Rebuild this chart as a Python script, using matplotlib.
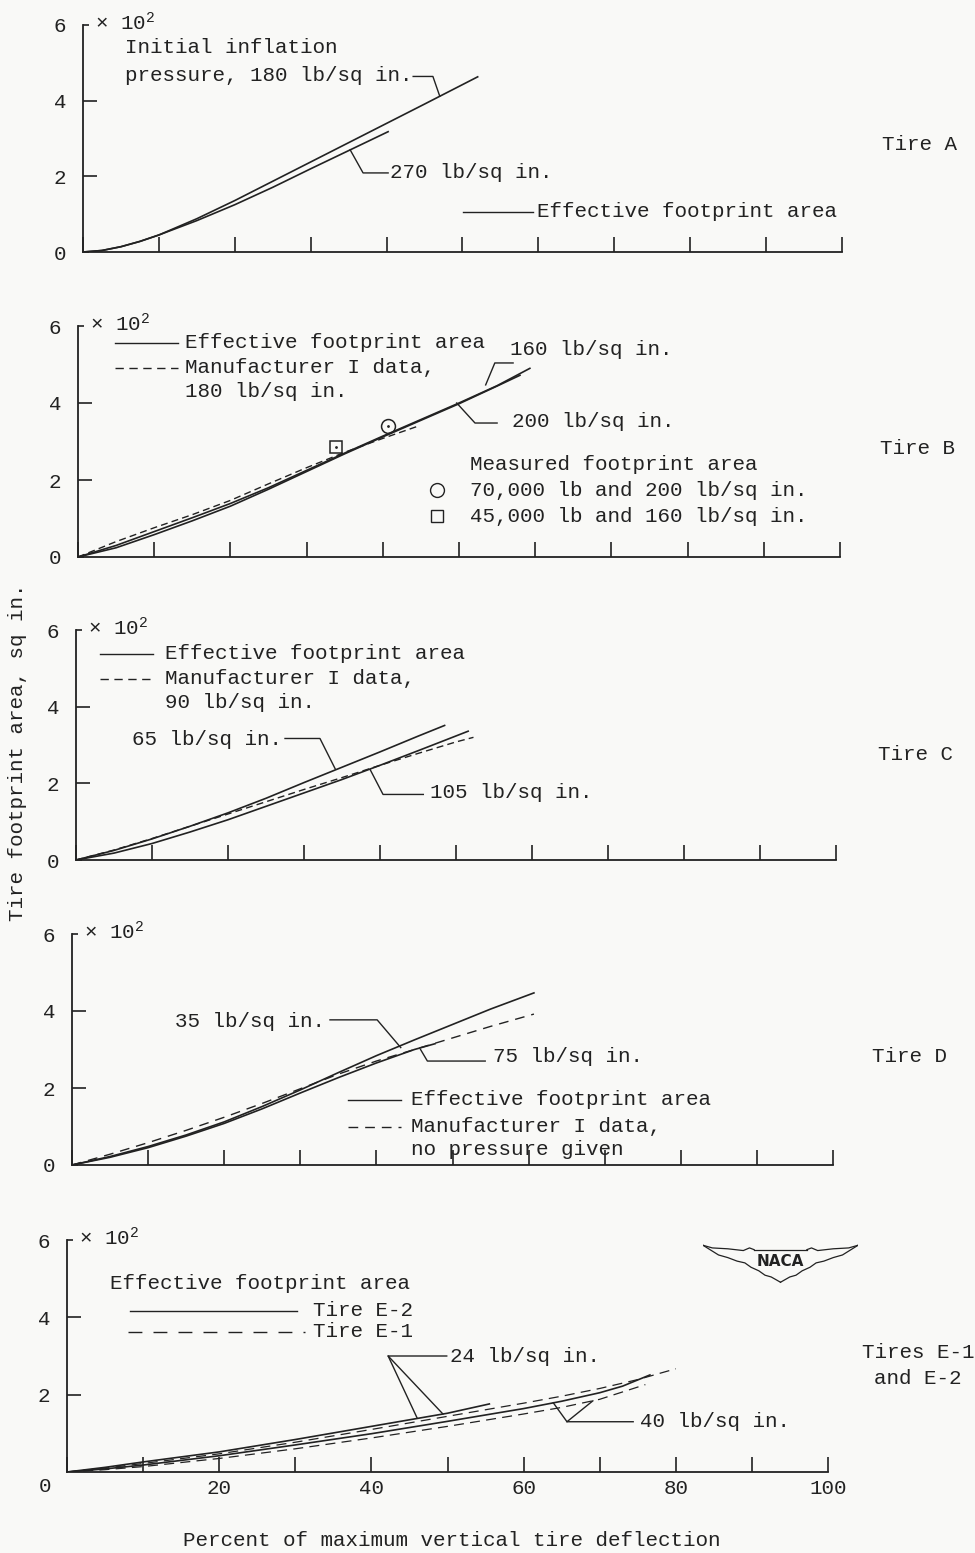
import numpy as np
import matplotlib
matplotlib.use("Agg")
import matplotlib.pyplot as plt

plt.rcParams['font.family'] = ['Liberation Mono', 'DejaVu Sans Mono']
plt.rcParams['font.size'] = 15
plt.rcParams['mathtext.fontset'] = 'custom'
plt.rcParams['mathtext.rm'] = 'Liberation Mono'
plt.rcParams['mathtext.it'] = 'Liberation Mono'
INK = '#222222'
plt.rcParams['text.color'] = INK
plt.rcParams['axes.edgecolor'] = INK
plt.rcParams['xtick.color'] = INK
plt.rcParams['ytick.color'] = INK

W, H = 975, 1553

# ---- Tire A ----
a_x180 = [0, 2.5, 5, 7.5, 10, 15, 20, 25, 30, 35, 40, 45, 52]
a_y180 = [0, 0.04, 0.14, 0.28, 0.45, 0.88, 1.36, 1.87, 2.38, 2.89, 3.4, 3.91, 4.63]
a_x270 = [0, 2.5, 5, 7.5, 10, 15, 20, 25, 30, 35, 40.2]
a_y270 = [0, 0.04, 0.14, 0.28, 0.45, 0.83, 1.25, 1.71, 2.2, 2.68, 3.18]

# ---- Tire B ----
b_x160 = [0, 5, 10, 15, 20, 25, 30, 35, 40, 45, 50, 55, 59.3]
b_y160 = [0, 0.3, 0.66, 1.02, 1.39, 1.8, 2.25, 2.7, 3.14, 3.57, 4.0, 4.45, 4.9]
b_x200 = [0, 5, 10, 15, 20, 25, 30, 35, 40, 45, 50, 55, 58]
b_y200 = [0, 0.24, 0.58, 0.94, 1.32, 1.76, 2.22, 2.68, 3.12, 3.55, 3.98, 4.44, 4.72]
b_xman = [0, 5, 10, 15, 20, 25, 30, 35, 40, 44.5]
b_yman = [0, 0.4, 0.76, 1.1, 1.47, 1.9, 2.32, 2.72, 3.08, 3.39]
b_meas_x = [40.7, 33.8]
b_meas_y = [3.39, 2.86]

# ---- Tire C ----
c_x65 = [0, 5, 10, 15, 20, 25, 30, 35, 40, 45, 48.5]
c_y65 = [0, 0.25, 0.55, 0.88, 1.23, 1.61, 2.02, 2.42, 2.82, 3.23, 3.51]
c_x105 = [0, 5, 10, 15, 20, 25, 30, 35, 40, 45, 48.5, 51.6]
c_y105 = [0, 0.18, 0.43, 0.73, 1.05, 1.4, 1.75, 2.1, 2.47, 2.85, 3.12, 3.36]
c_xman = [0, 5, 10, 15, 20, 25, 30, 35, 40, 45, 50, 52.3]
c_yman = [0, 0.26, 0.56, 0.88, 1.2, 1.52, 1.84, 2.15, 2.47, 2.78, 3.08, 3.2]

# ---- Tire D ----
d_x35 = [0, 5, 10, 15, 20, 25, 30, 35, 40, 45, 50, 55, 60.7]
d_y35 = [0, 0.22, 0.48, 0.78, 1.12, 1.52, 1.95, 2.4, 2.84, 3.25, 3.65, 4.05, 4.47]
d_x75 = [0, 5, 10, 15, 20, 25, 30, 35, 40, 45, 47.7]
d_y75 = [0, 0.2, 0.45, 0.75, 1.08, 1.46, 1.87, 2.27, 2.65, 3.0, 3.15]
d_xman = [0, 5, 10, 15, 20, 25, 30, 35, 40, 45, 50, 55, 60.7]
d_yman = [0, 0.28, 0.58, 0.9, 1.24, 1.6, 1.98, 2.36, 2.7, 3.0, 3.3, 3.6, 3.92]

# ---- Tires E-1 and E-2 ----
e_x2_24 = [0, 5, 10, 20, 30, 40, 50, 55.5]
e_y2_24 = [0, 0.12, 0.26, 0.52, 0.84, 1.18, 1.52, 1.76]
e_x2_40 = [0, 5, 10, 20, 30, 40, 50, 60, 65, 70, 73, 76.6]
e_y2_40 = [0, 0.08, 0.18, 0.42, 0.7, 0.99, 1.31, 1.64, 1.83, 2.05, 2.22, 2.51]
e_x1_24 = [0, 5, 10, 20, 30, 40, 50, 60, 65, 70, 75, 80]
e_y1_24 = [0, 0.1, 0.22, 0.47, 0.77, 1.1, 1.44, 1.78, 1.96, 2.16, 2.39, 2.67]
e_x1_40 = [0, 5, 10, 20, 30, 40, 50, 60, 65, 70, 76]
e_y1_40 = [0, 0.06, 0.14, 0.35, 0.6, 0.88, 1.18, 1.5, 1.67, 1.88, 2.26]

x_ticks = list(range(0, 101, 10))
e_xlabels = ['', '', '20', '', '40', '', '60', '', '80', '', '100']

fig = plt.figure(figsize=(W / 100, H / 100), dpi=100)
fig.patch.set_facecolor('#f9f9f7')


def make_ax(L, T, R, B, bottom_labels=False, zero_label=True):
    ax = fig.add_axes([L / W, 1 - B / H, (R - L) / W, (B - T) / H])
    ax.set_facecolor('none')
    ax.set_xlim(0, 100)
    ax.set_ylim(0, 6)
    for s in ['top', 'right']:
        ax.spines[s].set_visible(False)
    for s in ['left', 'bottom']:
        ax.spines[s].set_linewidth(1.3)
    ax.set_xticks(x_ticks)
    ax.tick_params(axis='x', direction='in', length=11, width=1.2,
                   labelbottom=bottom_labels, pad=5, labelsize=15)
    if bottom_labels:
        ax.set_xticklabels(e_xlabels)
    ax.set_yticks([2, 4])
    ax.set_yticklabels(['2', '4'])
    if zero_label:
        ax.set_yticks([0, 6], minor=True)
        ax.set_yticklabels(['0', '6'], minor=True)
    else:
        ax.set_yticks([6], minor=True)
        ax.set_yticklabels(['6'], minor=True)
    ax.tick_params(axis='y', which='major', direction='in', length=10, width=1.2, pad=12, labelsize=15)
    ax.tick_params(axis='y', which='minor', direction='in', length=4, width=1.2, pad=12, labelsize=15)
    ax.text(1.6, 6.05, r'× 10$^{2}$', ha='left', va='center', fontsize=15)
    return ax


def leader(ax, pts):
    xs, ys = zip(*pts)
    ax.plot(xs, ys, color=INK, lw=1.0, clip_on=False)


lw = 1.2
dash_short = (0, (5, 3))
dash_key = (0, (6, 4))

# Panel A
ax = make_ax(83, 25, 842, 252)
ax.plot(a_x180, a_y180, color=INK, lw=lw)
ax.plot(a_x270, a_y270, color=INK, lw=lw)
ax.text(5.5, 5.4, 'Initial inflation', va='center')
ax.text(5.5, 4.66, 'pressure, 180 lb/sq in.', va='center')
leader(ax, [(43.5, 4.64), (46.1, 4.64), (47.0, 4.12)])
ax.text(40.4, 2.09, '270 lb/sq in.', va='center')
leader(ax, [(40.2, 2.09), (36.9, 2.09), (35.2, 2.7)])
ax.plot([50.1, 59.3], [1.06, 1.06], color=INK, lw=1.0)
ax.text(59.8, 1.06, 'Effective footprint area', va='center')

# Panel B
ax = make_ax(78, 326, 840, 557)
ax.plot(b_x160, b_y160, color=INK, lw=lw)
ax.plot(b_x200, b_y200, color=INK, lw=lw)
ax.plot(b_xman, b_yman, color=INK, lw=1.0, ls=dash_short)
ax.plot(b_meas_x[0], b_meas_y[0], marker='o', ms=10, mfc='none', mec=INK, mew=1.1)
ax.plot(b_meas_x[1], b_meas_y[1], marker='s', ms=9, mfc='none', mec=INK, mew=1.1)
ax.plot(b_meas_x, b_meas_y, ls='none', marker='.', ms=2, color=INK)
ax.plot([4.9, 13.1], [5.56, 5.56], color=INK, lw=1.0)
ax.text(14.0, 5.56, 'Effective footprint area', va='center')
ax.plot([4.9, 13.1], [4.91, 4.91], color=INK, lw=1.0, ls=dash_key)
ax.text(14.0, 4.91, 'Manufacturer I data,', va='center')
ax.text(14.0, 4.29, '180 lb/sq in.', va='center')
ax.text(56.7, 5.4, '160 lb/sq in.', va='center')
leader(ax, [(57.1, 5.04), (54.7, 5.04), (53.5, 4.47)])
ax.text(57.0, 3.53, '200 lb/sq in.', va='center')
leader(ax, [(55.0, 3.48), (52.1, 3.48), (49.7, 4.0)])
ax.text(51.4, 2.39, 'Measured footprint area', va='center')
ax.plot(47.1, 1.74, marker='o', ms=10, mfc='none', mec=INK, mew=1.0)
ax.text(51.4, 1.74, '70,000 lb and 200 lb/sq in.', va='center')
ax.plot(47.1, 1.06, marker='s', ms=9, mfc='none', mec=INK, mew=1.0)
ax.text(51.4, 1.06, '45,000 lb and 160 lb/sq in.', va='center')

# Panel C
ax = make_ax(76, 630, 836, 860)
ax.plot(c_x65, c_y65, color=INK, lw=lw)
ax.plot(c_x105, c_y105, color=INK, lw=lw)
ax.plot(c_xman, c_yman, color=INK, lw=1.0, ls=dash_short)
ax.plot([3.2, 10.1], [5.38, 5.38], color=INK, lw=1.0)
ax.text(11.7, 5.38, 'Effective footprint area', va='center')
ax.plot([3.2, 10.1], [4.73, 4.73], color=INK, lw=1.0, ls=dash_key)
ax.text(11.7, 4.73, 'Manufacturer I data,', va='center')
ax.text(11.7, 4.1, '90 lb/sq in.', va='center')
ax.text(7.4, 3.14, '65 lb/sq in.', va='center')
leader(ax, [(27.5, 3.17), (32.1, 3.17), (34.1, 2.38)])
ax.text(46.6, 1.77, '105 lb/sq in.', va='center')
leader(ax, [(45.7, 1.71), (40.4, 1.71), (38.7, 2.36)])

# Panel D
dash_d = (0, (7, 5))
ax = make_ax(72, 934, 833, 1165)
ax.plot(d_x35, d_y35, color=INK, lw=lw)
ax.plot(d_x75, d_y75, color=INK, lw=lw)
ax.plot(d_xman, d_yman, color=INK, lw=1.0, ls=dash_d)
ax.text(13.6, 3.74, '35 lb/sq in.', va='center')
leader(ax, [(33.9, 3.77), (40.1, 3.77), (43.2, 3.05)])
ax.text(55.3, 2.81, '75 lb/sq in.', va='center')
leader(ax, [(54.3, 2.7), (46.7, 2.7), (45.8, 3.0)])
ax.plot([36.3, 43.2], [1.69, 1.69], color=INK, lw=1.0)
ax.text(44.5, 1.71, 'Effective footprint area', va='center')
ax.plot([36.3, 43.2], [0.99, 0.99], color=INK, lw=1.0, ls=dash_d)
ax.text(44.5, 1.01, 'Manufacturer I data,', va='center')
ax.text(44.5, 0.39, 'no pressure given', va='center')

# Panel E
dash_e = (0, (8, 5))
ax = make_ax(67, 1240, 828, 1472, bottom_labels=True, zero_label=False)
ax.plot(e_x2_24, e_y2_24, color=INK, lw=lw)
ax.plot(e_x2_40, e_y2_40, color=INK, lw=lw)
ax.plot(e_x1_24, e_y1_24, color=INK, lw=0.9, ls=dash_e)
ax.plot(e_x1_40, e_y1_40, color=INK, lw=0.9, ls=dash_e)
ax.text(5.65, 4.87, 'Effective footprint area', va='center')
ax.plot([8.3, 30.2], [4.17, 4.17], color=INK, lw=1.0)
ax.text(32.3, 4.17, 'Tire E-2', va='center')
ax.plot([8.0, 31.3], [3.63, 3.63], color=INK, lw=1.0, ls=(0, (10, 8)))
ax.text(32.3, 3.63, 'Tire E-1', va='center')
ax.text(50.3, 3.0, '24 lb/sq in.', va='center')
leader(ax, [(49.9, 3.0), (42.2, 3.0), (46.0, 1.4)])
leader(ax, [(42.2, 3.0), (49.4, 1.5)])
ax.text(75.3, 1.3, '40 lb/sq in.', va='center')
leader(ax, [(74.4, 1.3), (65.7, 1.3), (63.9, 1.79)])
leader(ax, [(65.7, 1.3), (69.1, 1.84)])
ax.text(-2.9, -0.38, '0', ha='center', va='center', fontsize=15)

# Tire labels on the right
fig.text(920 / W, 1 - 144 / H, 'Tire A', ha='center', va='center')
fig.text(918 / W, 1 - 448 / H, 'Tire B', ha='center', va='center')
fig.text(915 / W, 1 - 754 / H, 'Tire C', ha='center', va='center')
fig.text(910 / W, 1 - 1057 / H, 'Tire D', ha='center', va='center')
fig.text(918 / W, 1 - 1352 / H, 'Tires E-1', ha='center', va='center')
fig.text(918 / W, 1 - 1378 / H, 'and E-2', ha='center', va='center')

fig.text(18 / W, 1 - 752 / H, 'Tire footprint area, sq in.', rotation=90,
         ha='center', va='center')
fig.text(452 / W, 1 - 1541 / H, 'Percent of maximum vertical tire deflection',
         ha='center', va='center')

# NACA wings logo
lg = fig.add_axes([703 / W, 1 - 1284 / H, 155 / W, 44 / H])
lg.set_xlim(0, 1)
lg.set_ylim(0, 1)
lg.axis('off')
top_x = [0.0, 0.06, 0.16, 0.26, 0.3, 0.33]
top_y = [0.88, 0.82, 0.8, 0.76, 0.82, 0.78]
low_x = [0.0, 0.1, 0.16, 0.22, 0.27, 0.31, 0.36, 0.4, 0.44, 0.47, 0.5]
low_y = [0.88, 0.66, 0.6, 0.52, 0.48, 0.38, 0.3, 0.2, 0.16, 0.1, 0.04]
for xs, ys in [(top_x, top_y), (low_x, low_y)]:
    lg.plot(xs, ys, color=INK, lw=0.9)
    lg.plot([1 - v for v in xs], ys, color=INK, lw=0.9)
lg.plot([0.33, 0.67], [0.78, 0.78], color=INK, lw=0.9)
lg.text(0.5, 0.5, 'NACA', ha='center', va='center', fontsize=11,
        fontweight='bold', family='DejaVu Sans', color=INK)

fig.savefig('out.png', dpi=100, facecolor=fig.get_facecolor())
